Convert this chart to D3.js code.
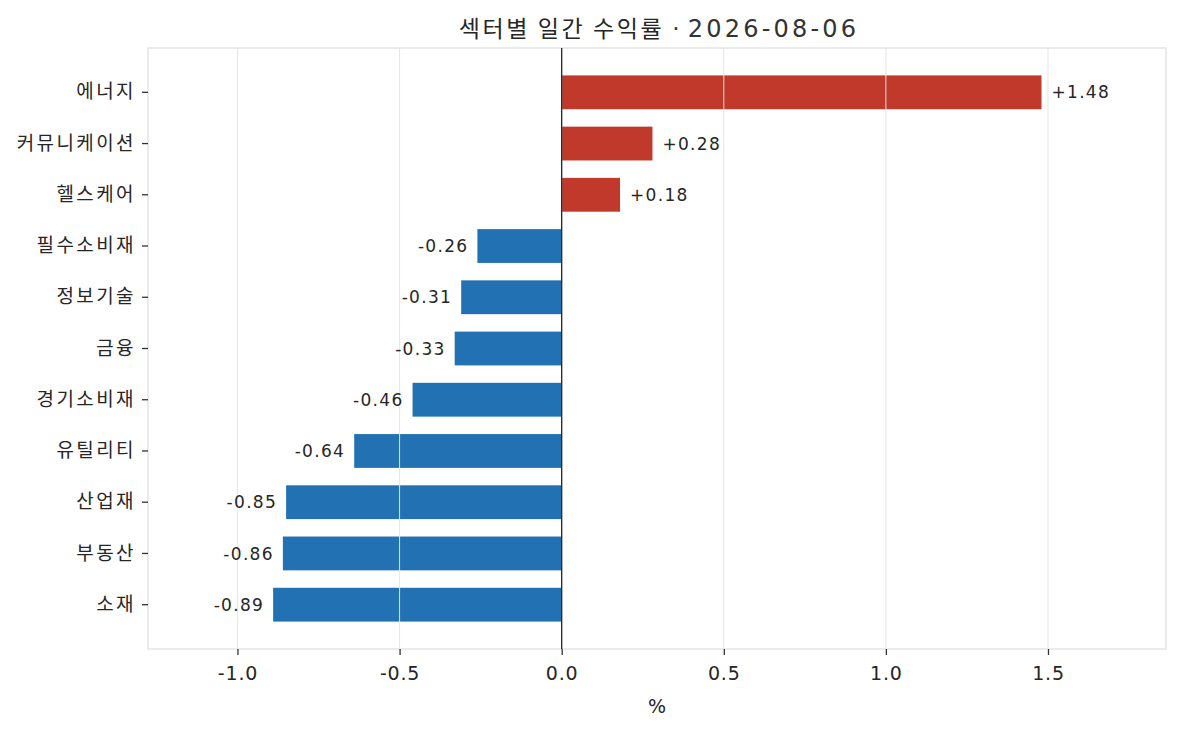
<!DOCTYPE html>
<html>
<head>
<meta charset="utf-8">
<script src="https://cdn.jsdelivr.net/npm/d3@7"></script>
<style>
  body { margin: 0; background: #fff; }
  text { font-family: "Noto Sans CJK KR", "Noto Sans", sans-serif; fill: #262626; }
  .num { font-family: "DejaVu Sans", "Noto Sans CJK KR", sans-serif; }
</style>
</head>
<body>
<div id="chart"></div>
<script>
const sectors = ["에너지", "커뮤니케이션", "헬스케어", "필수소비재", "정보기술", "금융",
  "경기소비재", "유틸리티", "산업재", "부동산", "소재"];
const returns = [1.48, 0.28, 0.18, -0.26, -0.31, -0.33, -0.46, -0.64, -0.85, -0.86, -0.89];
const xTicks = [-1.0, -0.5, 0.0, 0.5, 1.0, 1.5];
const titleMain = "섹터별 일간 수익률";
const titleDate = "2026-08-06";

const width = 1180;
const height = 734;
const margin = {top: 48, right: 14, bottom: 85, left: 148};

const svg = d3.select("#chart")
  .append("svg")
  .attr("width", width)
  .attr("height", height);

const x = d3.scaleLinear()
  .domain([-1.276, 1.864])
  .range([margin.left, width - margin.right]);

const y = d3.scaleBand()
  .domain(sectors)
  .range([margin.top, height - margin.bottom])
  .paddingInner(0.34)
  .paddingOuter(0.535);

// frame
svg.append("rect")
  .attr("x", margin.left)
  .attr("y", margin.top)
  .attr("width", width - margin.right - margin.left)
  .attr("height", height - margin.bottom - margin.top)
  .attr("fill", "none")
  .attr("stroke", "#e5e5e5")
  .attr("stroke-width", 1.5);

// bars
svg.selectAll("rect.bar")
  .data(sectors)
  .enter()
  .append("rect")
  .attr("class", "bar")
  .attr("x", (d, i) => x(Math.min(0, returns[i])))
  .attr("y", d => y(d))
  .attr("width", (d, i) => Math.abs(x(returns[i]) - x(0)))
  .attr("height", y.bandwidth())
  .attr("fill", (d, i) => returns[i] >= 0 ? "#c0392b" : "#2271b3");

// grid sits on top of the bars in the original
svg.selectAll("line.grid")
  .data(xTicks)
  .enter()
  .append("line")
  .attr("class", "grid")
  .attr("x1", d => x(d))
  .attr("x2", d => x(d))
  .attr("y1", margin.top)
  .attr("y2", height - margin.bottom)
  .attr("stroke", "#e5e5e5")
  .attr("stroke-width", 1);

// zero line
svg.append("line")
  .attr("x1", x(0))
  .attr("x2", x(0))
  .attr("y1", margin.top)
  .attr("y2", height - margin.bottom)
  .attr("stroke", "#262626")
  .attr("stroke-width", 1.3);

// value labels
svg.selectAll("text.value")
  .data(sectors)
  .enter()
  .append("text")
  .attr("class", "value num")
  .attr("x", (d, i) => x(returns[i]) + (returns[i] >= 0 ? 10 : -9))
  .attr("y", d => y(d) + y.bandwidth() / 2)
  .attr("dy", "0.36em")
  .attr("text-anchor", (d, i) => returns[i] >= 0 ? "start" : "end")
  .attr("fill", "#333")
  .style("font-size", "17px")
  .style("letter-spacing", "1.3px")
  .text((d, i) => (returns[i] >= 0 ? "+" : "-") + Math.abs(returns[i]).toFixed(2));

// x axis
const xAxis = svg.append("g")
  .attr("transform", `translate(0, ${height - margin.bottom})`)
  .call(d3.axisBottom(x).tickValues(xTicks).tickSize(6).tickPadding(12)
    .tickFormat(d => d3.format(".1f")(d).replace("−", "-")));
xAxis.select(".domain").remove();
xAxis.selectAll("line").attr("stroke", "#333").attr("stroke-width", 1.3);
xAxis.selectAll("text")
  .attr("class", "num")
  .style("font-size", "19px")
  .style("letter-spacing", "0.8px")
  .attr("fill", "#333");

// y axis
const yAxis = svg.append("g")
  .attr("transform", `translate(${margin.left}, 0)`)
  .call(d3.axisLeft(y).tickSize(6).tickPadding(6));
yAxis.select(".domain").remove();
yAxis.selectAll("line").attr("stroke", "#333").attr("stroke-width", 1.3);
yAxis.selectAll("text")
  .style("font-size", "19px")
  .style("letter-spacing", "2.4px")
  .attr("fill", "#262626");

// x label
svg.append("text")
  .attr("class", "num")
  .attr("x", (margin.left + width - margin.right) / 2)
  .attr("y", 713)
  .attr("text-anchor", "middle")
  .attr("fill", "#333")
  .style("font-size", "19px")
  .text("%");

// title: hangul part and date part set in different fonts to match widths
const titleText = svg.append("text")
  .attr("x", (margin.left + width - margin.right) / 2 + 2)
  .attr("y", 37)
  .attr("text-anchor", "middle");
titleText.append("tspan")
  .style("font-size", "23px")
  .style("letter-spacing", "2.6px")
  .text(titleMain);
titleText.append("tspan")
  .attr("class", "num")
  .attr("fill", "#333")
  .style("font-size", "23px")
  .style("letter-spacing", "0.5px")
  .text(" · ");
titleText.append("tspan")
  .attr("class", "num")
  .attr("fill", "#333")
  .style("font-size", "24px")
  .style("letter-spacing", "3.2px")
  .text(titleDate);
</script>
</body>
</html>
